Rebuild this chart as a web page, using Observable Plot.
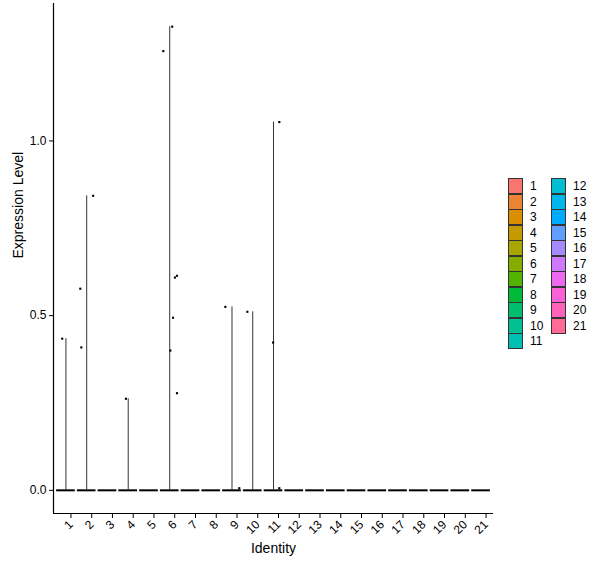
<!DOCTYPE html>
<html>
<head>
<meta charset="utf-8">
<script src="https://cdn.jsdelivr.net/npm/d3@7"></script>
<script src="https://cdn.jsdelivr.net/npm/@observablehq/plot@0.6"></script>
<style>
  body { margin: 0; background: #fff; font-family: "Liberation Sans", Arial, sans-serif; }
  #wrap { position: relative; width: 600px; height: 568px; }
  #legend { position: absolute; left: 0; top: 0; }
  .key { position: absolute; width: 15px; height: 16px; box-sizing: border-box; border: 1px solid #333; }
  .lab { position: absolute; font-size: 12px; color: #000; line-height: 16px; }
  svg text { font-family: "Liberation Sans", Arial, sans-serif; }
</style>
</head>
<body>
<div id="wrap"><div id="legend"></div></div>
<script>
// ---- data ----
const identities = d3.range(1, 22); // 1..21
const yTicks = [0, 0.5, 1.0];
// non-zero cells: group, horizontal jitter (in category units), expression value
const pointGroup  = [1,    2,    2,     2,     4,     6,     6,     6,    6,    6,     6,    6,     9,     9,     10,    11,    11,    11];
const pointJitter = [-0.18, 0.31, -0.31, -0.26, -0.11, 0.12, -0.31, 0.35, 0.25, 0.16, 0.03, 0.35, -0.32, 0.35, -0.26, 0.28, -0.02, 0.28];
const pointValue  = [0.434, 0.843, 0.577, 0.409, 0.262, 1.327, 1.257, 0.614, 0.609, 0.494, 0.40, 0.278, 0.525, 0.006, 0.511, 1.054, 0.423, 0.006];

const points = pointGroup.map((g, i) => ({group: g, x: g + pointJitter[i], value: pointValue[i]}));
const maxByGroup = d3.rollup(points, v => d3.max(v, d => d.value), d => d.group);
const violins = identities.map(g => ({group: g, max: maxByGroup.get(g) || 0}));

// ggplot default hue palette (polar LUV, c=100, l=65)
function hclToHex(h, c, l) {
  const hr = h * Math.PI / 180;
  const U = c * Math.cos(hr), V = c * Math.sin(hr);
  const Xn = 95.047, Yn = 100, Zn = 108.883;
  const Y = l > 7.999592 ? Yn * Math.pow((l + 16) / 116, 3) : Yn * l / 903.3;
  const t = Xn + 15 * Yn + 3 * Zn, un = 4 * Xn / t, vn = 9 * Yn / t;
  const u = U / (13 * l) + un, v = V / (13 * l) + vn;
  const X = 9 * Y * u / (4 * v), Z = -X / 3 - 5 * Y + 3 * Y / v;
  const x = X / 100, y = Y / 100, z = Z / 100;
  const lin = [
    3.240479 * x - 1.53715 * y - 0.498535 * z,
    -0.969256 * x + 1.875992 * y + 0.041556 * z,
    0.055648 * x - 0.204043 * y + 1.057311 * z
  ];
  const g = lin.map(c => {
    let s = c <= 0.0031308 ? 12.92 * c : 1.055 * Math.pow(c, 1 / 2.4) - 0.055;
    s = Math.max(0, Math.min(1, s));
    return Math.round(s * 255);
  });
  return d3.rgb(g[0], g[1], g[2]).formatHex();
}
const colors = identities.map((d, i) => hclToHex(15 + i * 360 / 21, 100, 65));

const yMax = d3.max(pointValue);
const yDomain = [-0.05 * yMax, yMax * 1.05];
const xDomain = [0.4, 21.6];

const chart = Plot.plot({
  width: 600,
  height: 568,
  marginLeft: 53,
  marginRight: 107,
  marginTop: 3,
  marginBottom: 55,
  style: {fontSize: "12px", color: "#000", background: "white"},
  x: {domain: xDomain, label: null},
  y: {domain: yDomain, label: null},
  marks: [
    Plot.ruleY(violins, {y: 0, x1: d => d.group - 0.45, x2: d => d.group + 0.45, stroke: "#000", strokeWidth: 2}),
    Plot.ruleX(violins.filter(d => d.max > 0), {x: "group", y1: 0, y2: "max", stroke: "#333", strokeWidth: 1}),
    Plot.dot(points, {x: "x", y: "value", symbol: "square", r: 1.2, fill: "#000", stroke: "none"}),
    Plot.axisY({ticks: yTicks, tickFormat: d3.format(".1f"), tickSize: 4, tickPadding: 3, fontSize: 12, label: null}),
    Plot.axisX({ticks: identities, tickFormat: d => String(d), tickSize: 4, tickRotate: -45, tickPadding: 4, fontSize: 12, dx: 5, dy: 1, label: null}),
    Plot.ruleX([xDomain[0]], {stroke: "#000", strokeWidth: 1.2}),
    Plot.ruleY([yDomain[0]], {stroke: "#000", strokeWidth: 1.2}),
    Plot.text(["Identity"], {frameAnchor: "bottom", dy: 39, fontSize: 14, fill: "#000"}),
    Plot.text(["Expression Level"], {frameAnchor: "left", dx: -35, rotate: -90, fontSize: 14, fill: "#000"})
  ]
});
document.getElementById("wrap").prepend(chart);

// legend (two columns)
const legend = document.getElementById("legend");
identities.forEach((d, i) => {
  const col = i < 11 ? 0 : 1;
  const row = i < 11 ? i : i - 11;
  const left = col === 0 ? 508 : 551;
  const top = 178 + row * 15.5;
  const k = document.createElement("div");
  k.className = "key";
  k.style.left = left + "px";
  k.style.top = top + "px";
  k.style.background = colors[i];
  legend.appendChild(k);
  const t = document.createElement("div");
  t.className = "lab";
  t.style.left = (left + 22) + "px";
  t.style.top = top + "px";
  t.textContent = d;
  legend.appendChild(t);
});
</script>
</body>
</html>
